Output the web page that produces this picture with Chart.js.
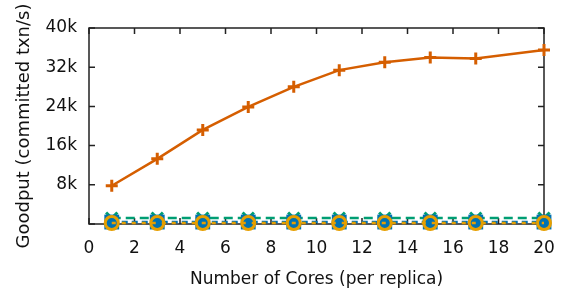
<!DOCTYPE html>
<html>
<head>
<meta charset="utf-8">
<script src="https://cdn.jsdelivr.net/npm/chart.js@4"></script>
<style>
  html, body { margin: 0; padding: 0; background: #fff; }
  #wrap { width: 570px; height: 290px; }
</style>
</head>
<body>
<div id="wrap"><canvas id="myChart" width="570" height="290"></canvas></div>
<script>
const cores = [1, 3, 5, 7, 9, 11, 13, 15, 17, 20];
const goodputMain = [7800, 13300, 19200, 23900, 28000, 31400, 33000, 34000, 33800, 35500];
const goodputCircle = [200, 200, 200, 200, 200, 200, 200, 200, 200, 200];
const goodputSquare = [400, 400, 400, 400, 400, 400, 400, 400, 400, 400];
const goodputCross = [1200, 1200, 1200, 1200, 1200, 1200, 1200, 1200, 1200, 1200];
const xTicks = [0, 2, 4, 6, 8, 10, 12, 14, 16, 18, 20];
const yTicks = [0, 8000, 16000, 24000, 32000, 40000];

const FONT = 'DejaVu Sans';

function pts(ys) {
  return cores.map((x, i) => ({ x: x, y: ys[i] }));
}

// box round the plot with inward ticks on all four sides
const boxPlugin = {
  id: 'box',
  beforeDatasetsDraw(chart) {
    const c = chart.ctx;
    const a = chart.chartArea;
    const xs = chart.scales.x;
    const ys = chart.scales.y;
    c.save();
    c.strokeStyle = '#222';
    c.lineWidth = 1.5;
    c.beginPath();
    xTicks.forEach(v => {
      const px = xs.getPixelForValue(v);
      c.moveTo(px, a.bottom); c.lineTo(px, a.bottom - 6);
      c.moveTo(px, a.top); c.lineTo(px, a.top + 6);
    });
    yTicks.forEach(v => {
      const py = ys.getPixelForValue(v);
      c.moveTo(a.left, py); c.lineTo(a.left + 6, py);
      c.moveTo(a.right, py); c.lineTo(a.right - 6, py);
    });
    c.stroke();
    c.strokeRect(a.left, a.top, a.right - a.left, a.bottom - a.top);
    c.restore();
  }
};

let ctx = document.getElementById('myChart').getContext('2d');
const myChart = new Chart(ctx, {
  type: 'scatter',
  data: {
    datasets: [
      {
        data: pts(goodputMain),
        showLine: true,
        borderColor: '#d55e00',
        backgroundColor: '#d55e00',
        borderWidth: 2.5,
        pointStyle: 'cross',
        pointRadius: 6,
        pointBorderWidth: 3,
        order: 0
      },
      {
        data: pts(goodputCircle),
        showLine: true,
        borderColor: '#e69f00',
        backgroundColor: 'rgba(0,0,0,0)',
        borderWidth: 2.5,
        borderDash: [4, 6],
        pointStyle: 'circle',
        pointRadius: 6.5,
        pointBorderWidth: 3,
        order: 1
      },
      {
        data: pts(goodputSquare),
        showLine: true,
        borderColor: '#0072b2',
        backgroundColor: '#0072b2',
        borderWidth: 2.5,
        borderDash: [6, 4],
        pointStyle: 'rect',
        pointRadius: 10.5,
        pointBorderWidth: 0,
        order: 2
      },
      {
        data: pts(goodputCross),
        showLine: true,
        borderColor: '#009e73',
        backgroundColor: '#009e73',
        borderWidth: 2.5,
        borderDash: [9, 5],
        pointStyle: 'crossRot',
        pointRadius: 8,
        pointBorderWidth: 3,
        order: 3
      }
    ]
  },
  options: {
    responsive: false,
    animation: false,
    clip: false,
    layout: { padding: { top: 28, right: 26, left: 0, bottom: 0 } },
    plugins: {
      legend: { display: false },
      tooltip: { enabled: false }
    },
    scales: {
      x: {
        type: 'linear',
        min: 0,
        max: 20,
        afterBuildTicks: (s) => { s.ticks = xTicks.map(v => ({ value: v })); },
        afterFit: (s) => { s.height = 66; },
        grid: { display: false, drawTicks: false },
        border: { display: false },
        ticks: {
          color: '#111',
          font: { family: FONT, size: 17 },
          padding: 14,
          maxRotation: 0
        },
        title: {
          display: true,
          text: 'Number of Cores (per replica)',
          color: '#111',
          font: { family: FONT, size: 17 },
          padding: { top: 0, bottom: 0 }
        }
      },
      y: {
        min: 0,
        max: 40000,
        afterBuildTicks: (s) => { s.ticks = yTicks.map(v => ({ value: v })); },
        afterFit: (s) => { s.width = 89; },
        grid: { display: false, drawTicks: false },
        border: { display: false },
        ticks: {
          color: '#111',
          font: { family: FONT, size: 17 },
          padding: 12,
          callback: (v) => v === 0 ? '' : (v / 1000) + 'k'
        },
        title: {
          display: true,
          text: 'Goodput (committed txn/s)',
          color: '#111',
          font: { family: FONT, size: 18 },
          padding: { top: 14, bottom: 0 }
        }
      }
    }
  },
  plugins: [boxPlugin]
});
</script>
</body>
</html>
